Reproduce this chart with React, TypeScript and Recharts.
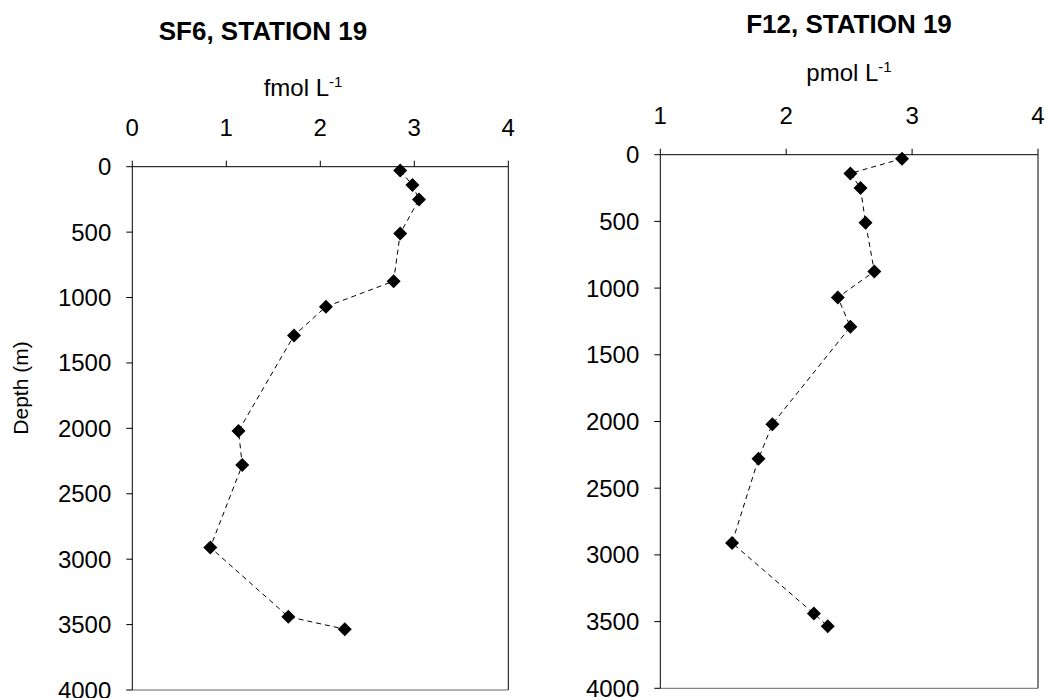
import React from 'react';
import { ScatterChart, Scatter, XAxis, YAxis, ReferenceLine } from 'recharts';

// depth (m) of each bottle, shared by both profiles
const depthM = [30, 140, 250, 510, 875, 1070, 1290, 2020, 2280, 2910, 3440, 3535];
const sf6 = [2.85, 2.98, 3.05, 2.85, 2.78, 2.06, 1.72, 1.13, 1.17, 0.83, 1.66, 2.26];
const f12 = [2.92, 2.51, 2.59, 2.63, 2.70, 2.41, 2.51, 1.89, 1.78, 1.57, 2.22, 2.33];

const depthTicks = [0, 500, 1000, 1500, 2000, 2500, 3000, 3500, 4000];
const sf6Ticks = [0, 1, 2, 3, 4];
const f12Ticks = [1, 2, 3, 4];

const FONT = '"Liberation Sans", Arial, sans-serif';
const tickStyle = { fontSize: 24, fill: '#000', fontFamily: FONT };

const Diamond = (props: any) => {
  const { cx, cy } = props;
  if (cx == null || cy == null) return null;
  const r = 7;
  return (
    <polygon
      points={`${cx},${cy - r} ${cx + r},${cy} ${cx},${cy + r} ${cx - r},${cy}`}
      fill="#000"
    />
  );
};

interface ProfileProps {
  values: number[];
  xTicks: number[];
  yWidth: number;
  margin: { top: number; right: number; bottom: number; left: number };
  width: number;
  showDepthLabel?: boolean;
}

const Profile: React.FC<ProfileProps> = ({ values, xTicks, yWidth, margin, width, showDepthLabel }) => {
  const data = depthM.map((d, i) => ({ x: values[i], y: d }));
  const xMin = xTicks[0];
  const xMax = xTicks[xTicks.length - 1];

  return (
    <ScatterChart width={width} height={698} margin={margin}>
      <XAxis
        type="number"
        dataKey="x"
        orientation="top"
        domain={[xMin, xMax]}
        ticks={xTicks}
        height={60}
        tick={tickStyle}
        tickSize={6}
        tickMargin={25}
        axisLine={{ stroke: '#000' }}
        tickLine={{ stroke: '#000' }}
        allowDataOverflow
      />
      <YAxis
        type="number"
        dataKey="y"
        domain={[0, 4000]}
        ticks={depthTicks}
        reversed
        width={yWidth}
        tick={tickStyle}
        tickSize={6}
        tickMargin={15}
        axisLine={{ stroke: '#000' }}
        tickLine={{ stroke: '#000' }}
        interval={0}
        label={
          showDepthLabel
            ? {
                content: () => (
                  <text
                    x={28}
                    y={388}
                    transform="rotate(-90 28 388)"
                    textAnchor="middle"
                    style={{ fontSize: 21, fontFamily: FONT, fill: '#000' }}
                  >
                    Depth (m)
                  </text>
                ),
              }
            : undefined
        }
      />
      <ReferenceLine x={xMax} stroke="#000" />
      <ReferenceLine y={4000} stroke="#666" />
      <Scatter
        data={data}
        line={{ stroke: '#000', strokeWidth: 1, strokeDasharray: '5 4' }}
        shape={<Diamond />}
        isAnimationActive={false}
      />
    </ScatterChart>
  );
};

const titleStyle: React.CSSProperties = {
  position: 'absolute',
  transform: 'translateX(-50%)',
  fontFamily: FONT,
  fontWeight: 'bold',
  fontSize: 26,
  lineHeight: 1,
  whiteSpace: 'nowrap',
  color: '#000',
};

const unitStyle: React.CSSProperties = {
  position: 'absolute',
  transform: 'translateX(-50%)',
  fontFamily: FONT,
  fontSize: 24,
  lineHeight: 1,
  whiteSpace: 'nowrap',
  color: '#000',
};

export default function App() {
  return (
    <div style={{ position: 'absolute', left: 0, top: 0, width: 1046, height: 698, background: '#fff', overflow: 'hidden' }}>
      <div style={{ position: 'absolute', left: 0, top: 0 }}>
        <Profile
          values={sf6}
          xTicks={sf6Ticks}
          yWidth={132.3}
          width={540}
          margin={{ top: 106.7, right: 31.7, bottom: 8, left: 0 }}
          showDepthLabel
        />
      </div>
      <div style={{ position: 'absolute', left: 560, top: 0 }}>
        <Profile
          values={f12}
          xTicks={f12Ticks}
          yWidth={100.3}
          width={486}
          margin={{ top: 94.7, right: 8, bottom: 9.7, left: 0 }}
        />
      </div>

      <div style={{ ...titleStyle, left: 263, top: 18 }}>SF6, STATION 19</div>
      <div style={{ ...titleStyle, left: 849, top: 11 }}>F12, STATION 19</div>

      <div style={{ ...unitStyle, left: 303, top: 74 }}>
        fmol L<sup style={{ fontSize: 15 }}>-1</sup>
      </div>
      <div style={{ ...unitStyle, left: 849, top: 59 }}>
        pmol L<sup style={{ fontSize: 15 }}>-1</sup>
      </div>
    </div>
  );
}
